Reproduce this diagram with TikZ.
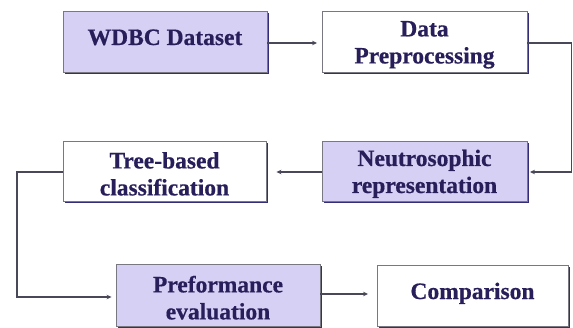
\documentclass[tikz,border=0pt]{standalone}
\usepackage{fontspec}
\newfontfamily\boxfont{Liberation Serif}[FakeBold=0.6]
\usetikzlibrary{arrows.meta,calc,shadows}
\definecolor{lav}{RGB}{214,208,244}
\definecolor{navytxt}{RGB}{40,30,90}
\definecolor{shadowc}{RGB}{52,46,120}
\definecolor{bordc}{RGB}{120,120,130}
\definecolor{linec}{RGB}{72,72,88}
\newcommand{\topstrut}{\rule{0pt}{22pt}}
\tikzset{
  x=1pt,y=1pt,
  stepbox/.style={draw=bordc, line width=0.9pt, minimum height=60pt, align=center,
    font=\boxfont\bfseries\fontsize{23.5}{27}\selectfont, text=navytxt,
    inner sep=0pt,
    general shadow={fill=shadowc, shadow xshift=1.6pt, shadow yshift=-1.6pt}},
  oneline/.style={text height=16pt, text depth=9pt},
  lavbox/.style={stepbox, fill=lav},
  whitebox/.style={stepbox, fill=white},
  conn/.style={draw=linec, line width=1.3pt, -{Stealth[length=5pt,width=4.5pt]}},
}
\begin{document}
\begin{tikzpicture}
\useasboundingbox (0,0) rectangle (573,327);
\fill[white] (0,0) rectangle (573,327);
\node[lavbox, oneline, minimum width=204pt, minimum height=61pt] (wdbc) at (165,285.5) {WDBC Dataset};
\node[whitebox, minimum width=205pt, minimum height=61pt] (dp) at (424.5,285.5) {\topstrut Data\\Preprocessing};
\node[lavbox, minimum width=205pt, minimum height=60pt] (neu) at (424.5,156) {\topstrut Neutrosophic\\representation};
\node[whitebox, minimum width=203pt, minimum height=60pt] (tree) at (164.5,156) {\topstrut Tree-based\\classification};
\node[lavbox, minimum width=204pt, minimum height=62pt] (perf) at (218,32) {\topstrut Preformance\\evaluation};
\node[whitebox, oneline, minimum width=191pt, minimum height=61pt] (comp) at (472.5,31.5) {Comparison};
\coordinate (rtop) at (571.5,284);
\coordinate (rbot) at (571.5,155);
\coordinate (ltop) at (17,155);
\coordinate (lbot) at (17,30);
\draw[conn, shorten >=4.5pt] (wdbc.east |- 0,284) -- (dp.west |- 0,284);
\draw[conn, shorten >=2.5pt] (dp.east |- rtop) -- (rtop) -- (rbot) -- (neu.east |- rbot);
\draw[conn, shorten >=10pt] (neu.west |- 0,155) -- (tree.east |- 0,155);
\draw[conn, shorten >=4pt] (tree.west |- ltop) -- (ltop) -- (lbot) -- (perf.west |- lbot);
\draw[conn, shorten >=8.5pt] (perf.east |- 0,33) -- (comp.west |- 0,33);
\end{tikzpicture}
\end{document}
